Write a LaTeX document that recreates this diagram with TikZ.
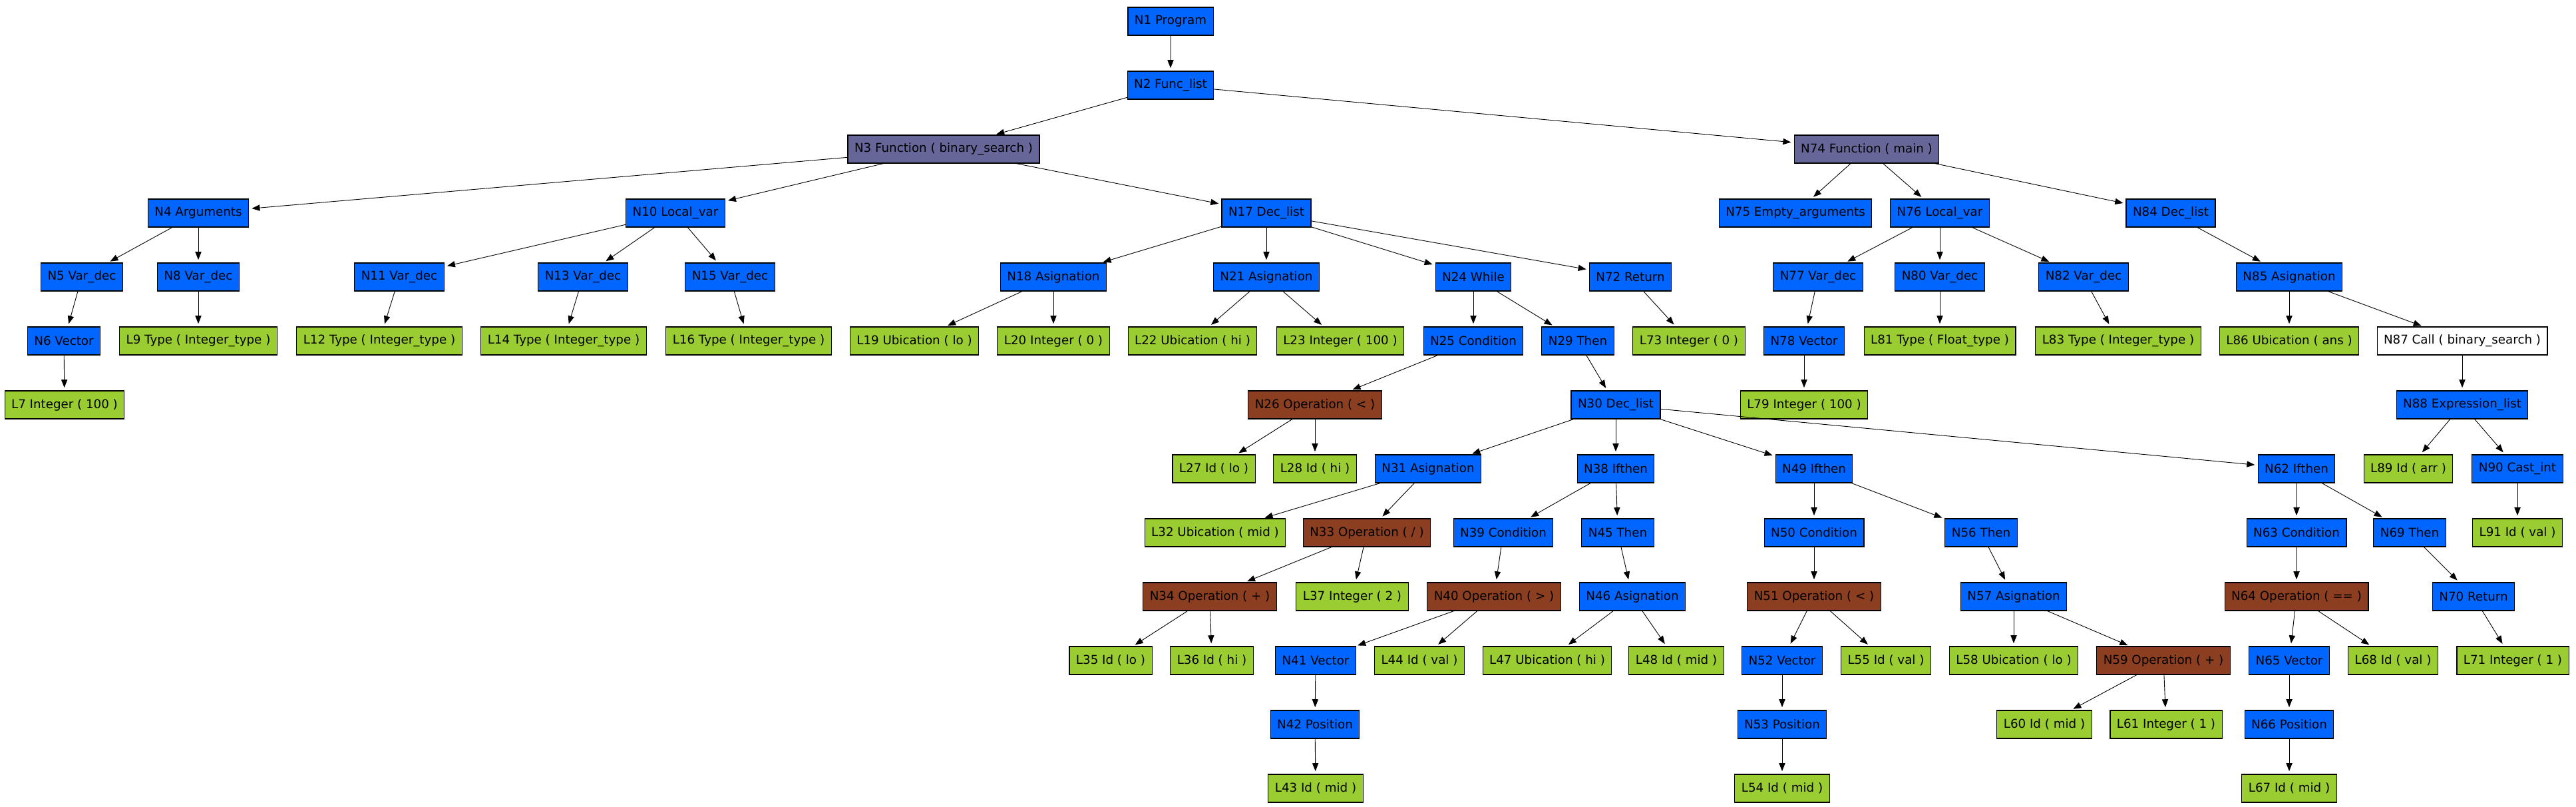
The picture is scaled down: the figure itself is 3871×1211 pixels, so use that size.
\documentclass[tikz,border=0pt]{standalone}
\usepackage{fontspec}
\setmainfont{DejaVu Sans}
\usepackage{xcolor}
\usepackage{tikz}
\usetikzlibrary{arrows.meta}

\definecolor{ntblue}{RGB}{0,102,255}
\definecolor{leafgreen}{RGB}{154,205,50}
\definecolor{opbrown}{RGB}{139,62,32}
\definecolor{fnpurple}{RGB}{102,102,153}

\begin{document}
\begin{tikzpicture}[
x=0.5pt, y=-0.5pt,
box/.style={draw, fill=#1, line width=0.55pt, outer sep=0pt, minimum height=21pt, inner xsep=5pt, inner ysep=0pt,
  font=\fontsize{9.13pt}{11pt}\selectfont,
  append after command={[fill=#1, draw, line width=0.55pt, line join=round]
    (\tikzlastnode.north west) -- ++(2.5pt,2.5pt) -- ([shift={(2.5pt,2.5pt)}]\tikzlastnode.north east)
    -- ([shift={(2.5pt,2.5pt)}]\tikzlastnode.south east) -- (\tikzlastnode.south east) -- (\tikzlastnode.north east) -- cycle
    (\tikzlastnode.north east) -- ++(2.5pt,2.5pt)}},
nt/.style={box=ntblue},
lf/.style={box=leafgreen},
op/.style={box=opbrown},
fn/.style={box=fnpurple},
cl/.style={box=white},
arr/.style={-{Triangle[length=6pt,width=4.6pt]}, line width=0.45pt, shorten >=2.4pt}
]
\useasboundingbox (0,0) rectangle (3871,1211);

\node[nt] (n1) at (1759,32) {N1 Program};
\node[nt] (n2) at (1759,128) {N2 Func\_list};

\node[fn] (n3) at (1418,224) {N3 Function ( binary\_search )};
\node[fn] (n74) at (2805,224) {N74 Function ( main )};

\node[nt] (n4) at (298,320) {N4 Arguments};
\node[nt] (n10) at (1015,320) {N10 Local\_var};
\node[nt] (n17) at (1903,320) {N17 Dec\_list};
\node[nt] (n75) at (2698,320) {N75 Empty\_arguments};
\node[nt] (n76) at (2915,320) {N76 Local\_var};
\node[nt] (n84) at (3262,320) {N84 Dec\_list};

\node[nt] (n5) at (123,416) {N5 Var\_dec};
\node[nt] (n8) at (298,416) {N8 Var\_dec};
\node[nt] (n11) at (600,416) {N11 Var\_dec};
\node[nt] (n13) at (876,416) {N13 Var\_dec};
\node[nt] (n15) at (1097,416) {N15 Var\_dec};
\node[nt] (n18) at (1583,416) {N18 Asignation};
\node[nt] (n21) at (1903,416) {N21 Asignation};
\node[nt] (n24) at (2214,416) {N24 While};
\node[nt] (n72) at (2450,416) {N72 Return};
\node[nt] (n77) at (2732,416) {N77 Var\_dec};
\node[nt] (n80) at (2915,416) {N80 Var\_dec};
\node[nt] (n82) at (3131,416) {N82 Var\_dec};
\node[nt] (n85) at (3440,416) {N85 Asignation};

\node[nt] (n6) at (96,512) {N6 Vector};
\node[lf] (l9) at (298,512) {L9 Type ( Integer\_type )};
\node[lf] (l12) at (570,512) {L12 Type ( Integer\_type )};
\node[lf] (l14) at (847,512) {L14 Type ( Integer\_type )};
\node[lf] (l16) at (1125,512) {L16 Type ( Integer\_type )};
\node[lf] (l19) at (1374,512) {L19 Ubication ( lo )};
\node[lf] (l20) at (1583,512) {L20 Integer ( 0 )};
\node[lf] (l22) at (1792,512) {L22 Ubication ( hi )};
\node[lf] (l23) at (2014,512) {L23 Integer ( 100 )};
\node[nt] (n25) at (2214,512) {N25 Condition};
\node[nt] (n29) at (2371,512) {N29 Then};
\node[lf] (l73) at (2538,512) {L73 Integer ( 0 )};
\node[nt] (n78) at (2711,512) {N78 Vector};
\node[lf] (l81) at (2915,512) {L81 Type ( Float\_type )};
\node[lf] (l83) at (3183,512) {L83 Type ( Integer\_type )};
\node[lf] (l86) at (3440,512) {L86 Ubication ( ans )};
\node[cl] (n87) at (3700,512) {N87 Call ( binary\_search )};

\node[lf] (l7) at (97,608) {L7 Integer ( 100 )};
\node[op] (n26) at (1976,608) {N26 Operation ( < )};
\node[nt] (n30) at (2428,608) {N30 Dec\_list};
\node[lf] (l79) at (2711,608) {L79 Integer ( 100 )};
\node[nt] (n88) at (3700,608) {N88 Expression\_list};

\node[lf] (l27) at (1824,704) {L27 Id ( lo )};
\node[lf] (l28) at (1976,704) {L28 Id ( hi )};
\node[nt] (n31) at (2146,704) {N31 Asignation};
\node[nt] (n38) at (2428,704) {N38 Ifthen};
\node[nt] (n49) at (2726,704) {N49 Ifthen};
\node[nt] (n62) at (3451,704) {N62 Ifthen};
\node[lf] (l89) at (3619,704) {L89 Id ( arr )};
\node[nt] (n90) at (3783,704) {N90 Cast\_int};

\node[lf] (l32) at (1826,800) {L32 Ubication ( mid )};
\node[op] (n33) at (2054,800) {N33 Operation ( / )};
\node[nt] (n39) at (2259,800) {N39 Condition};
\node[nt] (n45) at (2431,800) {N45 Then};
\node[nt] (n50) at (2726,800) {N50 Condition};
\node[nt] (n56) at (2977,800) {N56 Then};
\node[nt] (n63) at (3451,800) {N63 Condition};
\node[nt] (n69) at (3621,800) {N69 Then};
\node[lf] (l91) at (3783,800) {L91 Id ( val )};

\node[op] (n34) at (1818,896) {N34 Operation ( + )};
\node[lf] (l37) at (2032,896) {L37 Integer ( 2 )};
\node[op] (n40) at (2245,896) {N40 Operation ( > )};
\node[nt] (n46) at (2453,896) {N46 Asignation};
\node[op] (n51) at (2726,896) {N51 Operation ( < )};
\node[nt] (n57) at (3026,896) {N57 Asignation};
\node[op] (n64) at (3451,896) {N64 Operation ( == )};
\node[nt] (n70) at (3717,896) {N70 Return};

\node[lf] (l35) at (1669,992) {L35 Id ( lo )};
\node[lf] (l36) at (1821,992) {L36 Id ( hi )};
\node[nt] (n41) at (1977,992) {N41 Vector};
\node[lf] (l44) at (2133,992) {L44 Id ( val )};
\node[lf] (l47) at (2325,992) {L47 Ubication ( hi )};
\node[lf] (l48) at (2519,992) {L48 Id ( mid )};
\node[nt] (n52) at (2678,992) {N52 Vector};
\node[lf] (l55) at (2834,992) {L55 Id ( val )};
\node[lf] (l58) at (3026,992) {L58 Ubication ( lo )};
\node[op] (n59) at (3251,992) {N59 Operation ( + )};
\node[nt] (n65) at (3440,992) {N65 Vector};
\node[lf] (l68) at (3596,992) {L68 Id ( val )};
\node[lf] (l71) at (3776,992) {L71 Integer ( 1 )};

\node[nt] (n42) at (1976,1088) {N42 Position};
\node[nt] (n53) at (2678,1088) {N53 Position};
\node[lf] (l60) at (3072,1088) {L60 Id ( mid )};
\node[lf] (l61) at (3255,1088) {L61 Integer ( 1 )};
\node[nt] (n66) at (3440,1088) {N66 Position};

\node[lf] (l43) at (1977,1184) {L43 Id ( mid )};
\node[lf] (l54) at (2678,1184) {L54 Id ( mid )};
\node[lf] (l67) at (3440,1184) {L67 Id ( mid )};

\draw[arr] (n1) -- (n2);
\draw[arr] (n2) -- (n3);
\draw[arr] (n2) -- (n74);
\draw[arr] (n3) -- (n4);
\draw[arr] (n3) -- (n10);
\draw[arr] (n3) -- (n17);
\draw[arr] (n4) -- (n5);
\draw[arr] (n4) -- (n8);
\draw[arr] (n5) -- (n6);
\draw[arr] (n6) -- (l7);
\draw[arr] (n8) -- (l9);
\draw[arr] (n10) -- (n11);
\draw[arr] (n10) -- (n13);
\draw[arr] (n10) -- (n15);
\draw[arr] (n11) -- (l12);
\draw[arr] (n13) -- (l14);
\draw[arr] (n15) -- (l16);
\draw[arr] (n17) -- (n18);
\draw[arr] (n17) -- (n21);
\draw[arr] (n17) -- (n24);
\draw[arr] (n17) -- (n72);
\draw[arr] (n18) -- (l19);
\draw[arr] (n18) -- (l20);
\draw[arr] (n21) -- (l22);
\draw[arr] (n21) -- (l23);
\draw[arr] (n24) -- (n25);
\draw[arr] (n24) -- (n29);
\draw[arr] (n25) -- (n26);
\draw[arr] (n26) -- (l27);
\draw[arr] (n26) -- (l28);
\draw[arr] (n29) -- (n30);
\draw[arr] (n30) -- (n31);
\draw[arr] (n30) -- (n38);
\draw[arr] (n30) -- (n49);
\draw[arr] (n30) -- (n62);
\draw[arr] (n31) -- (l32);
\draw[arr] (n31) -- (n33);
\draw[arr] (n33) -- (n34);
\draw[arr] (n33) -- (l37);
\draw[arr] (n34) -- (l35);
\draw[arr] (n34) -- (l36);
\draw[arr] (n38) -- (n39);
\draw[arr] (n38) -- (n45);
\draw[arr] (n39) -- (n40);
\draw[arr] (n40) -- (n41);
\draw[arr] (n40) -- (l44);
\draw[arr] (n41) -- (n42);
\draw[arr] (n42) -- (l43);
\draw[arr] (n45) -- (n46);
\draw[arr] (n46) -- (l47);
\draw[arr] (n46) -- (l48);
\draw[arr] (n49) -- (n50);
\draw[arr] (n49) -- (n56);
\draw[arr] (n50) -- (n51);
\draw[arr] (n51) -- (n52);
\draw[arr] (n51) -- (l55);
\draw[arr] (n52) -- (n53);
\draw[arr] (n53) -- (l54);
\draw[arr] (n56) -- (n57);
\draw[arr] (n57) -- (l58);
\draw[arr] (n57) -- (n59);
\draw[arr] (n59) -- (l60);
\draw[arr] (n59) -- (l61);
\draw[arr] (n62) -- (n63);
\draw[arr] (n62) -- (n69);
\draw[arr] (n63) -- (n64);
\draw[arr] (n64) -- (n65);
\draw[arr] (n64) -- (l68);
\draw[arr] (n65) -- (n66);
\draw[arr] (n66) -- (l67);
\draw[arr] (n69) -- (n70);
\draw[arr] (n70) -- (l71);
\draw[arr] (n72) -- (l73);
\draw[arr] (n74) -- (n75);
\draw[arr] (n74) -- (n76);
\draw[arr] (n74) -- (n84);
\draw[arr] (n76) -- (n77);
\draw[arr] (n76) -- (n80);
\draw[arr] (n76) -- (n82);
\draw[arr] (n77) -- (n78);
\draw[arr] (n78) -- (l79);
\draw[arr] (n80) -- (l81);
\draw[arr] (n82) -- (l83);
\draw[arr] (n84) -- (n85);
\draw[arr] (n85) -- (l86);
\draw[arr] (n85) -- (n87);
\draw[arr] (n87) -- (n88);
\draw[arr] (n88) -- (l89);
\draw[arr] (n88) -- (n90);
\draw[arr] (n90) -- (l91);
\end{tikzpicture}
\end{document}
